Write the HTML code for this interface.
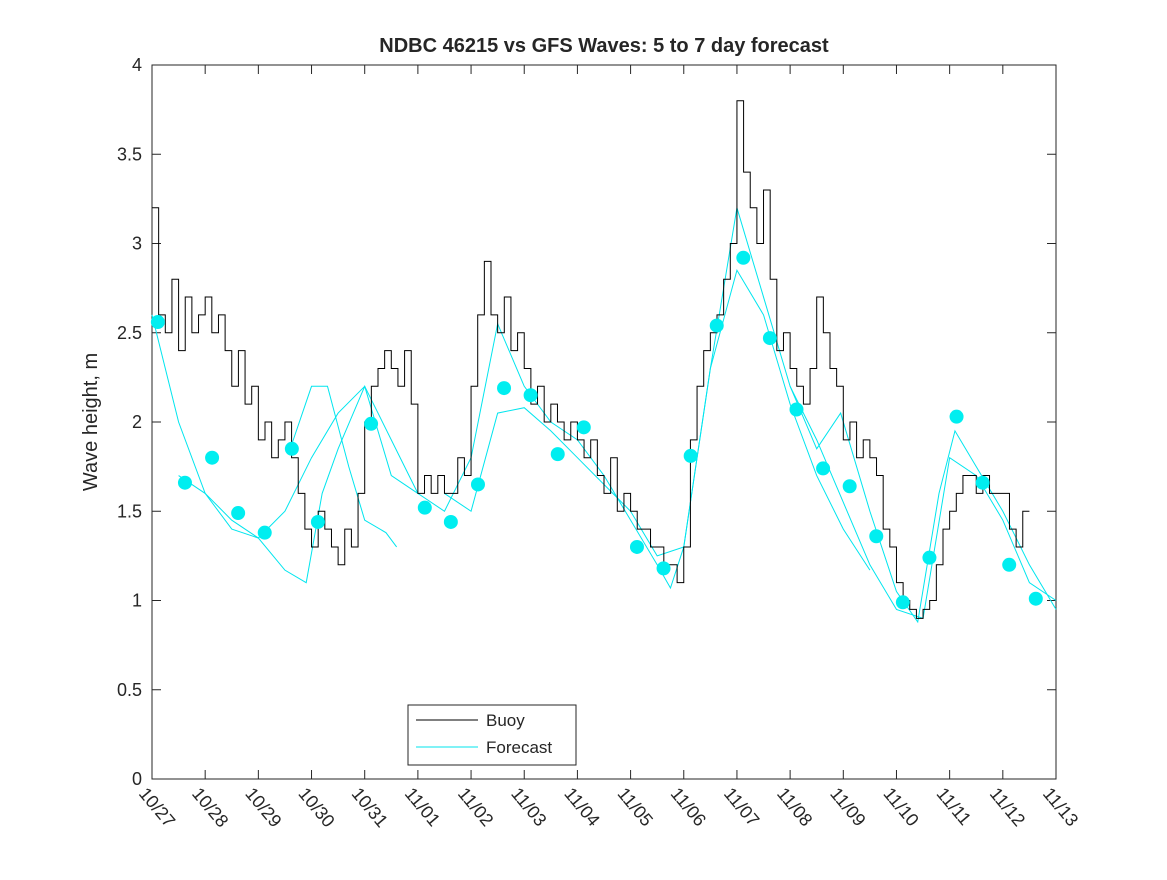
<!DOCTYPE html>
<html><head><meta charset="utf-8"><style>
body{margin:0;background:#fff;}
svg text{font-family:"Liberation Sans","DejaVu Sans",sans-serif;fill:#262626;}
</style></head><body>
<svg id="chart" width="1167" height="875">
<rect width="1167" height="875" fill="#fff"/>
<text x="604" y="52" text-anchor="middle" font-size="20" font-weight="bold">NDBC 46215 vs GFS Waves: 5 to 7 day forecast</text>
<text transform="translate(97,422) rotate(-90)" text-anchor="middle" font-size="20">Wave height, m</text>
<g id="axes"></g>
<g id="series"></g>
<g>
<rect x="408" y="705" width="168" height="60" fill="#fff" stroke="#262626" stroke-width="1"/>
<line x1="416" y1="720" x2="478" y2="720" stroke="#000"/>
<text x="486" y="726" font-size="17">Buoy</text>
<line x1="416" y1="747" x2="478" y2="747" stroke="#00e5ee"/>
<text x="486" y="753" font-size="17">Forecast</text>
</g>
</svg>
<script>
const xTickLabels=["10/27","10/28","10/29","10/30","10/31","11/01","11/02","11/03","11/04","11/05","11/06","11/07","11/08","11/09","11/10","11/11","11/12","11/13"];
const yTickLabels=["0","0.5","1","1.5","2","2.5","3","3.5","4"];
const yTickValues=[0,0.5,1,1.5,2,2.5,3,3.5,4];
const buoyStep=0.125;
const buoyValues=[3.2,2.6,2.5,2.8,2.4,2.7,2.5,2.6,
2.7,2.5,2.6,2.4,2.2,2.4,2.1,2.2,
1.9,2.0,1.8,1.9,2.0,1.8,1.6,1.4,
1.3,1.5,1.4,1.3,1.2,1.4,1.3,1.6,
2.0,2.2,2.3,2.4,2.3,2.2,2.4,2.1,
1.6,1.7,1.6,1.7,1.6,1.6,1.8,1.7,
2.2,2.6,2.9,2.6,2.5,2.7,2.4,2.5,
2.3,2.1,2.2,2.0,2.1,2.0,1.9,2.0,
1.9,1.8,1.9,1.7,1.6,1.8,1.5,1.6,
1.5,1.4,1.4,1.3,1.3,1.2,1.2,1.1,
1.3,1.9,2.2,2.4,2.5,2.6,2.8,3.0,
3.8,3.4,3.2,3.0,3.3,2.8,2.4,2.5,
2.3,2.2,2.1,2.3,2.7,2.5,2.3,2.2,
1.9,2.0,1.8,1.9,1.8,1.7,1.4,1.3,
1.1,1.0,0.95,0.9,0.95,1.0,1.2,1.4,
1.5,1.6,1.7,1.7,1.6,1.7,1.6,1.6,
1.6,1.4,1.3,1.5];
const dotDays=[0.11,0.62,1.13,1.62,2.12,2.63,3.12,4.12,5.13,5.62,6.13,6.62,7.12,7.63,8.12,9.12,9.62,10.13,10.62,11.12,11.62,12.12,12.62,13.12,13.62,14.12,14.62,15.13,15.62,16.12,16.62];
const dotValues=[2.56,1.66,1.80,1.49,1.38,1.85,1.44,1.99,1.52,1.44,1.65,2.19,2.15,1.82,1.97,1.30,1.18,1.81,2.54,2.92,2.47,2.07,1.74,1.64,1.36,0.99,1.24,2.03,1.66,1.20,1.01];
const runADays=[0,0.5,1,1.5,2,2.5,3,3.5,4,4.5,5,5.5,6,6.5,7,7.5,8,8.5,9,9.5,9.75,10,10.5,11,11.5,12,12.5,13,13.5];
const runAValues=[2.6,2.0,1.6,1.4,1.35,1.5,1.8,2.05,2.2,1.9,1.6,1.5,1.8,2.55,2.2,2.0,1.9,1.7,1.45,1.2,1.07,1.3,2.3,2.85,2.6,2.1,1.7,1.4,1.17];
const runBDays=[2.6,3.0,3.3,3.7,4.0,4.4,4.6];
const runBValues=[1.85,2.2,2.2,1.75,1.45,1.38,1.3];
const runCDays=[5.5,6,6.5,7,7.5,8,8.5,9,9.5,10,10.5,11,11.5,12,12.5,13,13.5,14,14.5,15,15.5,16,16.5,17];
const runCValues=[1.6,1.5,2.05,2.08,1.95,1.8,1.65,1.5,1.25,1.3,2.3,3.2,2.7,2.2,1.9,1.55,1.2,0.95,0.9,1.8,1.7,1.45,1.1,1.0];
const runDDays=[12,12.5,12.95,13.5,14,14.4,14.8,15.1,15.5,16,16.5,17];
const runDValues=[2.2,1.85,2.05,1.5,1.05,0.88,1.6,1.95,1.75,1.5,1.2,0.95];
const runEDays=[0.5,1,1.5,2,2.5,2.9,3.2,3.5,4,4.5,5];
const runEValues=[1.7,1.6,1.45,1.35,1.17,1.1,1.6,1.85,2.2,1.7,1.6];

const X0=152,X1=1056,Y0=779,Y1=65,DAYS=17,YMAX=4;
const sx=d=>X0+(X1-X0)*d/DAYS;
const sy=v=>Y0-(Y0-Y1)*v/YMAX;
const NS="http://www.w3.org/2000/svg";
function mk(tag,parent,attrs){const e=document.createElementNS(NS,tag);for(const k in attrs)e.setAttribute(k,attrs[k]);parent.appendChild(e);return e;}
const axes=document.getElementById('axes'),ser=document.getElementById('series');
const frame=mk('rect',axes,{x:X0,y:Y1,width:X1-X0,height:Y0-Y1,fill:'none',stroke:'#262626','stroke-width':1});


xTickLabels.forEach((t,i)=>{const x=sx(i);
 mk('line',axes,{x1:x,y1:Y0,x2:x,y2:Y0-9,stroke:'#262626'});
 mk('line',axes,{x1:x,y1:Y1,x2:x,y2:Y1+9,stroke:'#262626'});
 const tx=mk('text',axes,{x:0,y:0,'font-size':18,transform:`translate(${x-14},${Y0+15}) rotate(50)`});
 tx.textContent=t;
 
 
});
yTickValues.forEach((v,i)=>{const y=sy(v);
 mk('line',axes,{x1:X0,y1:y,x2:X0+9,y2:y,stroke:'#262626'});
 mk('line',axes,{x1:X1,y1:y,x2:X1-9,y2:y,stroke:'#262626'});
 const tx=mk('text',axes,{x:X0-10,y:y+6,'font-size':18,'text-anchor':'end'});
 tx.textContent=yTickLabels[i];
 
 
});
function line(days,vals,color,name){
 const p=mk('polyline',ser,{points:days.map((d,i)=>sx(d)+','+sy(vals[i])).join(' '),fill:'none',stroke:color,'stroke-width':1});
 
 
}
[[runADays,runAValues],[runBDays,runBValues],[runCDays,runCValues],[runDDays,runDValues],[runEDays,runEValues]].forEach((r,i)=>line(r[0],r[1],'#00e5ee','forecast-run-'+i));
let pts=[];buoyValues.forEach((v,i)=>{pts.push(sx(i*buoyStep)+','+sy(v));pts.push(sx((i+1)*buoyStep)+','+sy(v));});
const b=mk('polyline',ser,{points:pts.join(' '),fill:'none',stroke:'#000','stroke-width':1});


dotDays.forEach((d,i)=>{const c=mk('circle',ser,{cx:sx(d),cy:sy(dotValues[i]),r:7,fill:'#00eef0'});
 
 
});
</script>
</body></html>
